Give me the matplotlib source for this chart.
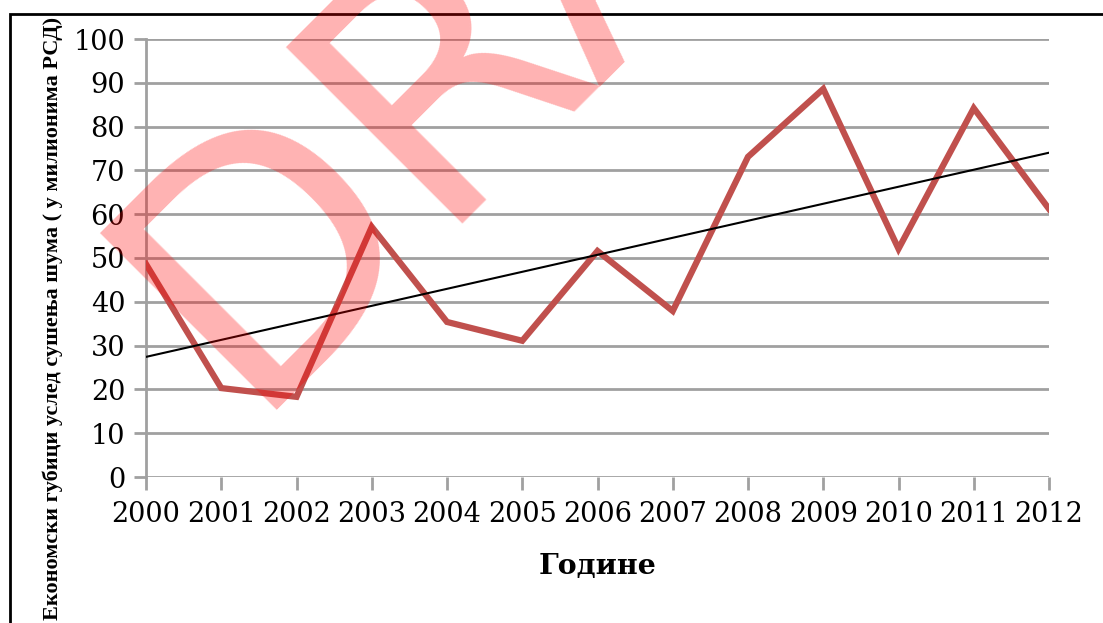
import numpy as np
import matplotlib
matplotlib.use("Agg")
import matplotlib.pyplot as plt
from matplotlib.patches import Rectangle

years = [2000, 2001, 2002, 2003, 2004, 2005, 2006, 2007, 2008, 2009, 2010, 2011, 2012]
losses = [48.6, 20.3, 18.3, 57.1, 35.4, 31.1, 51.6, 37.9, 73.1, 88.6, 52.1, 84.2, 61.2]
yticks = [0, 10, 20, 30, 40, 50, 60, 70, 80, 90, 100]
xlabel = "Године"
ylabel = "Економски губици услед сушења шума ( у милионима РСД)"
watermark = "DRAFT"

W, H = 1103, 623
fig = plt.figure(figsize=(W / 100, H / 100), dpi=100)
ax = fig.add_axes([146 / W, 1 - 477 / H, (1049 - 146) / W, (477 - 39) / H])

grid_c = "#a0a0a0"
ax.set_xlim(2000, 2012)
ax.set_ylim(0, 100)
ax.set_yticks(yticks)
ax.set_xticks(years)
ax.set_xticklabels([str(y) for y in years], fontsize=19.5, family="DejaVu Serif")
ax.set_yticklabels([str(v) for v in yticks], fontsize=19.5, family="DejaVu Serif")
ax.grid(axis="y", color=grid_c, linewidth=2)
ax.set_axisbelow(True)
for s in ["top", "right", "bottom"]:
    ax.spines[s].set_visible(False)
ax.spines["left"].set_color(grid_c)
ax.spines["left"].set_linewidth(2)
ax.tick_params(axis="y", color=grid_c, width=2, length=9, pad=6)
ax.tick_params(axis="x", color=grid_c, width=2, length=9, pad=8)

ax.plot(years, losses, color="#c0504d", linewidth=4.5, solid_joinstyle="miter", zorder=3)
coef = np.polyfit(years, losses, 1)
xs = np.array([2000, 2012])
ax.plot(xs, np.polyval(coef, xs), color="black", linewidth=1.5, zorder=4)

ax.set_xlabel(xlabel, fontsize=20.5, family="DejaVu Serif", fontweight="bold", labelpad=18)
fig.text(53 / W, 1 - 318 / H, ylabel, rotation=90, ha="center", va="center",
         fontsize=16, family="Liberation Serif", fontweight="bold")

# border
fig.patches.append(Rectangle((9.5 / W, -0.2), 1.5, 1.2 - 13.5 / H, transform=fig.transFigure,
                             fill=False, edgecolor="black", linewidth=2, clip_on=False))

fig.text(243 / W, 1 - 410 / H, watermark, rotation=45, rotation_mode="anchor",
         ha="left", va="baseline", fontsize=247, family="DejaVu Sans",
         color="red", alpha=0.3, zorder=10)

fig.savefig("out.png", dpi=100)
